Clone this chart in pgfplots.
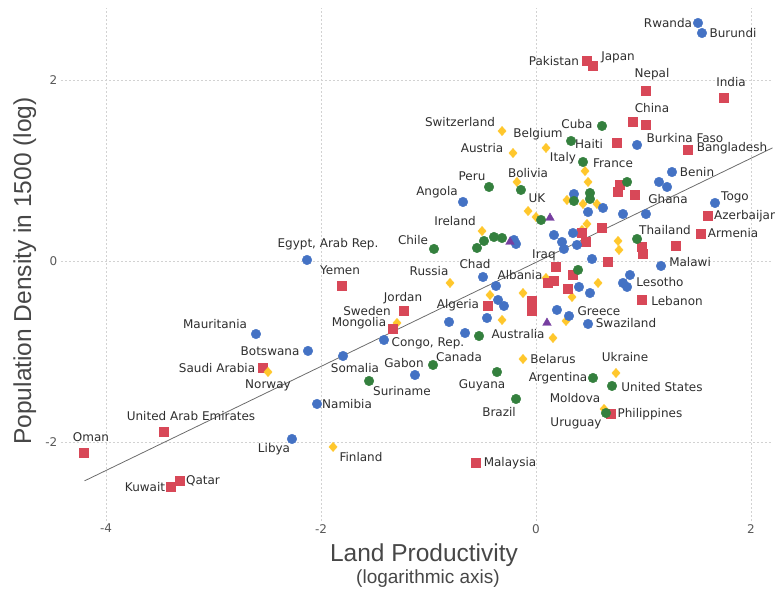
\documentclass[border=0pt]{standalone}
\usepackage{fontspec}
\setmainfont{DejaVu Sans}
\newfontfamily\titlefont{Liberation Sans}
\usepackage{pgfplots}
\pgfplotsset{compat=1.18}
\definecolor{cblue}{RGB}{68,114,196}
\definecolor{cgreen}{RGB}{52,128,62}
\definecolor{cyellow}{RGB}{255,199,44}
\definecolor{cred}{RGB}{216,72,88}
\definecolor{cpurple}{RGB}{118,62,160}
\tikzset{lbl/.style={font=\fontsize{12}{14}\selectfont, text=black!82, inner sep=0pt}}
\begin{document}
\begin{tikzpicture}
\begin{axis}[
  at={(60.85pt,67.3pt)}, anchor=south west,
  scale only axis, width=711.65pt, height=513.1pt,
  xmin=-4.42, xmax=2.2, ymin=-2.87, ymax=2.8,
  axis line style={draw=none}, major tick length=0pt,
  xtick={-4,-2,0,2}, xticklabels={-4,-2,0,2},
  ytick={-2,0,2}, yticklabels={-2,0,2},
  tick label style={font=\fontsize{12}{14}\selectfont, text=black!65},
  grid=major,
  major grid style={gray!35, dash pattern=on 2pt off 2pt, line width=0.6pt},
  clip=false,
]
% regression line
\addplot[gray!85!black, line width=0.8pt] coordinates {(-4.2,-2.43) (2.2,1.25)};

\addplot[only marks, mark=diamond*, mark size=4.6pt, mark options={xscale=1.2}, color=cyellow] table {
x y
-0.316 1.436
0.093 1.249
-0.214 1.193
0.456 0.994
0.484 0.873
-0.177 0.873
-0.074 0.552
0.000 0.486
-0.502 0.331
0.288 0.674
0.437 0.630
0.567 0.630
0.428 0.343
0.474 0.409
0.763 0.221
0.772 0.122
-0.800 -0.243
-0.428 -0.376
-0.121 -0.354
0.093 -0.188
0.577 -0.243
0.335 -0.398
-0.316 -0.652
0.279 -0.663
0.158 -0.851
-1.293 -0.685
-0.121 -1.083
0.744 -1.238
0.633 -1.635
-1.888 -2.055
};

\addplot[only marks, mark=square*, mark size=4.6pt, color=cred] table {
x y
0.474 2.210
0.530 2.155
1.023 1.878
1.749 1.801
0.902 1.536
1.023 1.503
0.753 1.304
1.414 1.227
0.781 0.840
0.763 0.762
0.921 0.729
0.614 0.365
0.428 0.309
0.465 0.210
1.600 0.497
1.535 0.298
1.302 0.166
0.986 0.155
0.995 0.077
0.670 -0.011
0.186 -0.066
0.344 -0.155
0.112 -0.243
0.167 -0.221
0.298 -0.309
0.986 -0.431
-0.037 -0.442
-0.037 -0.552
-0.447 -0.497
-1.228 -0.552
-1.330 -0.751
-1.805 -0.276
-2.540 -1.182
-3.460 -1.890
-4.205 -2.122
-3.312 -2.431
-3.395 -2.497
0.698 -1.691
-0.558 -2.232
};

% Norway on top of Saudi Arabia
\addplot[only marks, mark=diamond*, mark size=4.6pt, mark options={xscale=1.2}, color=cyellow] table {
x y
-2.493 -1.227
};

\addplot[only marks, mark=*, mark size=4.8pt, color=cblue] table {
x y
1.507 2.630
1.544 2.519
0.940 1.282
-2.130 0.011
-2.605 -0.807
-2.121 -0.994
-1.795 -1.050
-2.037 -1.580
-2.270 -1.967
-1.414 -0.873
-1.126 -1.260
-0.679 0.652
-0.493 -0.177
1.265 0.983
1.144 0.873
1.219 0.818
1.665 0.641
1.163 -0.055
0.847 -0.287
0.874 -0.155
0.809 -0.243
0.484 -0.696
0.307 -0.608
0.195 -0.541
0.400 -0.287
0.502 -0.354
0.521 0.022
-0.186 0.188
-0.205 0.232
0.167 0.287
0.344 0.309
0.242 0.210
0.260 0.133
0.381 0.177
0.353 0.740
0.484 0.541
0.623 0.586
0.809 0.519
1.023 0.519
-0.372 -0.276
-0.353 -0.431
-0.298 -0.497
-0.809 -0.674
-0.456 -0.630
-0.660 -0.796
};

\addplot[only marks, mark=*, mark size=4.8pt, color=cgreen] table {
x y
0.614 1.492
0.326 1.326
0.437 1.094
-0.437 0.818
-0.140 0.785
0.047 0.453
-0.949 0.133
-0.484 0.221
-0.549 0.144
-0.391 0.265
-0.316 0.254
0.847 0.873
0.502 0.751
0.502 0.685
0.353 0.663
0.940 0.243
0.391 -0.099
-1.553 -1.326
-0.958 -1.149
-0.530 -0.829
-0.363 -1.227
-0.186 -1.525
0.530 -1.293
0.707 -1.381
0.651 -1.680
};

\addplot[only marks, mark=triangle*, mark size=5pt, color=cpurple] table {
x y
0.130 0.475
-0.242 0.210
0.102 -0.685
};

% labels
\node[lbl] at (axis cs:1.228,2.630) {Rwanda};
\node[lbl] at (axis cs:1.833,2.519) {Burundi};
\node[lbl] at (axis cs:0.167,2.210) {Pakistan};
\node[lbl] at (axis cs:0.763,2.254) {Japan};
\node[lbl] at (axis cs:1.079,2.066) {Nepal};
\node[lbl] at (axis cs:1.814,1.978) {India};
\node[lbl] at (axis cs:1.079,1.691) {China};
\node[lbl] at (axis cs:-0.707,1.536) {Switzerland};
\node[lbl] at (axis cs:0.381,1.514) {Cuba};
\node[lbl] at (axis cs:0.019,1.403) {Belgium};
\node[lbl] at (axis cs:0.493,1.293) {Haiti};
\node[lbl] at (axis cs:1.386,1.359) {Burkina Faso};
\node[lbl] at (axis cs:-0.502,1.249) {Austria};
\node[lbl] at (axis cs:1.823,1.249) {Bangladesh};
\node[lbl] at (axis cs:0.251,1.138) {Italy};
\node[lbl] at (axis cs:0.716,1.083) {France};
\node[lbl] at (axis cs:1.498,0.983) {Benin};
\node[lbl] at (axis cs:-0.595,0.939) {Peru};
\node[lbl] at (axis cs:-0.074,0.972) {Bolivia};
\node[lbl] at (axis cs:-0.921,0.762) {Angola};
\node[lbl] at (axis cs:0.009,0.696) {UK};
\node[lbl] at (axis cs:1.228,0.685) {Ghana};
\node[lbl] at (axis cs:1.851,0.707) {Togo};
\node[lbl, anchor=west] at (axis cs:1.656,0.497) {Azerbaijan};
\node[lbl] at (axis cs:-0.753,0.442) {Ireland};
\node[lbl] at (axis cs:1.200,0.343) {Thailand};
\node[lbl] at (axis cs:1.833,0.309) {Armenia};
\node[lbl] at (axis cs:-1.935,0.188) {Egypt, Arab Rep.};
\node[lbl] at (axis cs:-1.144,0.232) {Chile};
\node[lbl] at (axis cs:0.074,0.066) {Iraq};
\node[lbl] at (axis cs:1.433,-0.011) {Malawi};
\node[lbl] at (axis cs:-1.823,-0.099) {Yemen};
\node[lbl] at (axis cs:-0.567,-0.033) {Chad};
\node[lbl] at (axis cs:-0.995,-0.110) {Russia};
\node[lbl] at (axis cs:-0.149,-0.155) {Albania};
\node[lbl] at (axis cs:1.153,-0.232) {Lesotho};
\node[lbl] at (axis cs:1.312,-0.442) {Lebanon};
\node[lbl] at (axis cs:-1.237,-0.409) {Jordan};
\node[lbl] at (axis cs:-0.726,-0.486) {Algeria};
\node[lbl] at (axis cs:-1.572,-0.552) {Sweden};
\node[lbl] at (axis cs:-1.647,-0.685) {Mongolia};
\node[lbl] at (axis cs:0.586,-0.552) {Greece};
\node[lbl] at (axis cs:0.837,-0.685) {Swaziland};
\node[lbl] at (axis cs:-2.986,-0.696) {Mauritania};
\node[lbl] at (axis cs:-0.167,-0.807) {Australia};
\node[lbl] at (axis cs:-1.005,-0.906) {Congo, Rep.};
\node[lbl] at (axis cs:-2.474,-0.994) {Botswana};
\node[lbl] at (axis cs:-0.716,-1.061) {Canada};
\node[lbl] at (axis cs:0.828,-1.061) {Ukraine};
\node[lbl] at (axis cs:0.158,-1.083) {Belarus};
\node[lbl] at (axis cs:-1.228,-1.127) {Gabon};
\node[lbl] at (axis cs:-2.967,-1.182) {Saudi Arabia};
\node[lbl] at (axis cs:-1.684,-1.182) {Somalia};
\node[lbl] at (axis cs:0.205,-1.293) {Argentina};
\node[lbl] at (axis cs:-2.493,-1.370) {Norway};
\node[lbl] at (axis cs:-0.502,-1.370) {Guyana};
\node[lbl] at (axis cs:1.172,-1.392) {United States};
\node[lbl] at (axis cs:-1.247,-1.436) {Suriname};
\node[lbl] at (axis cs:0.363,-1.514) {Moldova};
\node[lbl] at (axis cs:-1.758,-1.580) {Namibia};
\node[lbl] at (axis cs:-0.344,-1.669) {Brazil};
\node[lbl] at (axis cs:1.060,-1.691) {Philippines};
\node[lbl] at (axis cs:-3.209,-1.713) {United Arab Emirates};
\node[lbl] at (axis cs:0.372,-1.790) {Uruguay};
\node[lbl] at (axis cs:-4.140,-1.945) {Oman};
\node[lbl] at (axis cs:-2.437,-2.077) {Libya};
\node[lbl] at (axis cs:-1.628,-2.166) {Finland};
\node[lbl] at (axis cs:-0.242,-2.232) {Malaysia};
\node[lbl] at (axis cs:-3.098,-2.431) {Qatar};
\node[lbl] at (axis cs:-3.637,-2.497) {Kuwait};
\end{axis}
\node[font=\titlefont\fontsize{24.5}{28}\selectfont, text=black!72, anchor=base] at (424pt,27pt) {Land Productivity};
\node[font=\titlefont\fontsize{19}{22}\selectfont, text=black!72, anchor=base] at (428pt,5pt) {(logarithmic axis)};
\node[font=\titlefont\fontsize{24.5}{28}\selectfont, text=black!72, rotate=90, anchor=base] at (31pt,317pt) {Population Density in 1500 (log)};
\pgfresetboundingbox
\path (0,0) rectangle (775pt,588pt);
\end{tikzpicture}
\end{document}
